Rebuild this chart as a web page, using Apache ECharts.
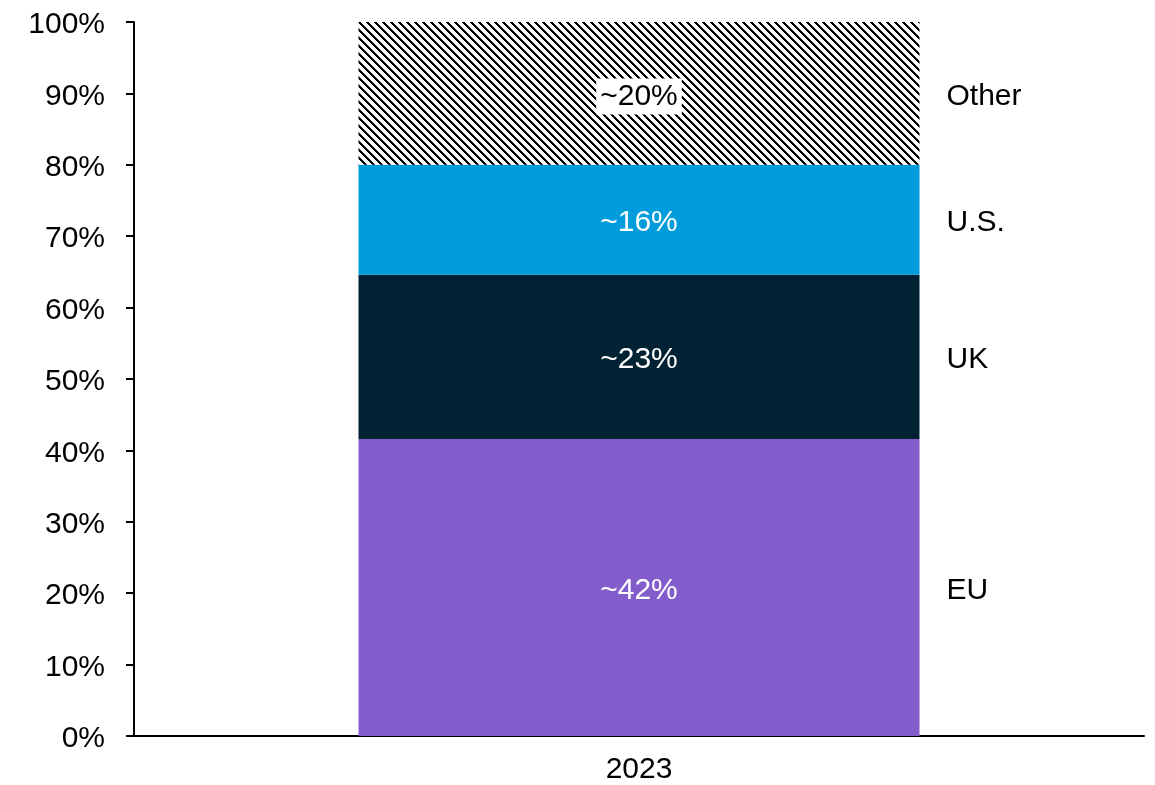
<!DOCTYPE html>
<html>
<head>
<meta charset="utf-8">
<script src="https://cdn.jsdelivr.net/npm/echarts@6/dist/echarts.min.js"></script>
<style>
  html, body { margin: 0; padding: 0; background: #fff; }
  #chart { width: 1155px; height: 785px; }
</style>
</head>
<body>
<div id="chart"></div>
<script>
// Share of total by region, 2023 (stacked to 100%)
const categories = ['2023'];
const regions = ['EU', 'UK', 'U.S.', 'Other'];
const shares = [41.6, 23.0, 15.4, 20.0];
const shareLabels = ['~42%', '~23%', '~16%', '~20%'];
const yTicks = [0, 10, 20, 30, 40, 50, 60, 70, 80, 90, 100];

// Diagonal hatch tile for the "Other" segment
function hatchTile() {
  const c = document.createElement('canvas');
  c.width = 8; c.height = 8;
  const ctx = c.getContext('2d');
  ctx.fillStyle = '#ffffff';
  ctx.fillRect(0, 0, 8, 8);
  ctx.fillStyle = '#000000';
  for (let y = 0; y < 8; y++) {
    ctx.fillRect(y % 8, y, 1, 1);
    ctx.fillRect((y + 1) % 8, y, 1, 1);
    ctx.fillRect((y + 2) % 8, y, 1, 1);
  }
  return c;
}

const fills = ['#835dcc', '#002232', '#009cdb', { image: hatchTile(), repeat: 'repeat' }];
const FONT = 'Liberation Sans, Arial, sans-serif';
const FS = 30;
const BAR_W = 561;

const chart = echarts.init(document.getElementById('chart'), null, { renderer: 'canvas' });

// Visible stacked bar with value labels inside
const valueSeries = regions.map((name, i) => ({
  name,
  type: 'bar',
  stack: 'share',
  xAxisIndex: 0,
  yAxisIndex: 0,
  barWidth: BAR_W,
  data: [shares[i]],
  itemStyle: { color: fills[i] },
  label: {
    show: true,
    position: 'inside',
    offset: [0, 3],
    formatter: () => shareLabels[i],
    color: i === 3 ? '#000' : '#fff',
    backgroundColor: i === 3 ? '#fff' : 'transparent',
    padding: i === 3 ? [4, 4, 2, 4] : 0,
    fontFamily: FONT,
    fontSize: FS
  },
  silent: true
}));

// Transparent twin stack that carries the region names beside the bar
const nameSeries = regions.map((name, i) => ({
  name: name + ' name',
  type: 'bar',
  stack: 'names',
  xAxisIndex: 1,
  yAxisIndex: 1,
  barWidth: BAR_W,
  data: [shares[i]],
  itemStyle: { color: 'rgba(0,0,0,0)' },
  label: {
    show: true,
    position: 'right',
    distance: 27,
    offset: [0, 3],
    formatter: () => name,
    color: '#000',
    fontFamily: FONT,
    fontSize: FS
  },
  silent: true
}));

chart.setOption({
  animation: false,
  backgroundColor: '#fff',
  grid: { left: 134, right: 11, top: 22, bottom: 47, containLabel: false },
  xAxis: [
    {
      type: 'category',
      data: categories,
      axisLine: { show: true, lineStyle: { color: '#000', width: 2 } },
      axisTick: { show: false },
      axisLabel: { color: '#000', fontFamily: FONT, fontSize: FS, margin: 19 }
    },
    {
      type: 'category',
      data: categories,
      show: false
    }
  ],
  yAxis: [
    {
      type: 'value',
      min: 0,
      max: 100,
      interval: 10,
      splitLine: { show: false },
      axisLine: { show: true, lineStyle: { color: '#000', width: 2 } },
      axisTick: { show: true, inside: false, length: 8, lineStyle: { color: '#000', width: 2 } },
      axisLabel: {
        color: '#000',
        fontFamily: FONT,
        fontSize: FS,
        margin: 29,
        formatter: v => (yTicks.includes(v) ? '{t|' + v + '%}' : ''),
        rich: {
          t: { fontFamily: FONT, fontSize: FS, color: '#000', padding: [6, 0, 0, 0] }
        }
      }
    },
    { type: 'value', min: 0, max: 100, show: false }
  ],
  series: valueSeries.concat(nameSeries)
});
</script>
</body>
</html>
